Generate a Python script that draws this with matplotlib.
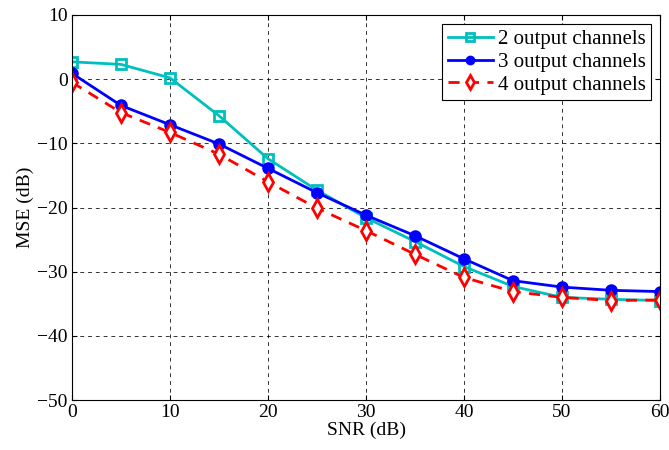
import numpy as np
import matplotlib
matplotlib.use("Agg")
from matplotlib import pyplot as plt

plt.rcParams['font.family'] = ['Liberation Serif', 'DejaVu Serif']
plt.rcParams['mathtext.fontset'] = 'stix'

# data
snr = [0, 5, 10, 15, 20, 25, 30, 35, 40, 45, 50, 55, 60]
mse_2ch = [2.7, 2.3, 0.2, -5.7, -12.4, -17.3, -21.6, -25.3, -29.2, -32.3, -34.0, -34.3, -34.5]
mse_3ch = [0.9, -4.1, -7.1, -10.1, -13.9, -17.7, -21.2, -24.4, -28.0, -31.4, -32.4, -32.9, -33.1]
mse_4ch = [-0.5, -5.2, -8.3, -11.7, -16.0, -20.1, -23.6, -27.3, -30.9, -33.1, -34.0, -34.5, -34.4]
labels = ['2 output channels', '3 output channels', '4 output channels']

fig = plt.figure(figsize=(6.69, 4.5), dpi=100)
ax = fig.add_axes([0.1076, 0.111, 0.879, 0.8557])

ax.plot(snr, mse_2ch, color='#00BFBF', lw=2, marker='s', ms=7, mfc='none',
        mew=2, label=labels[0])
ax.plot(snr, mse_3ch, color='#0000FF', lw=2, marker='o', ms=8,
        label=labels[1])
ax.plot(snr, mse_4ch, color='#FF0000', lw=2, ls=(0, (4, 3)), marker='d', ms=9,
        mfc='white', mew=2, label=labels[2])

ax.set_xlim(0, 60)
ax.set_ylim(-50, 10)
ax.set_xticks(np.arange(0, 61, 10))
ax.set_yticks(np.arange(-50, 11, 10))
ax.grid(True, color='black', ls=(0, (4, 4)), lw=0.7, alpha=0.8)
ax.tick_params(direction='in', labelsize=14, top=True, right=True, pad=3)
for s in ax.spines.values():
    s.set_linewidth(0.8)
ax.set_xlabel('SNR (dB)', fontsize=14, labelpad=0)
ax.set_ylabel('MSE (dB)', fontsize=14, labelpad=2)

leg = ax.legend(loc='upper right', fontsize=15, fancybox=False, framealpha=1,
                edgecolor='black', borderpad=0.25, labelspacing=0.15,
                handlelength=2.2, handletextpad=0.2, borderaxespad=0.45,
                markerscale=0.75)
leg.get_frame().set_linewidth(0.8)

fig.savefig('out.png', dpi=100)
